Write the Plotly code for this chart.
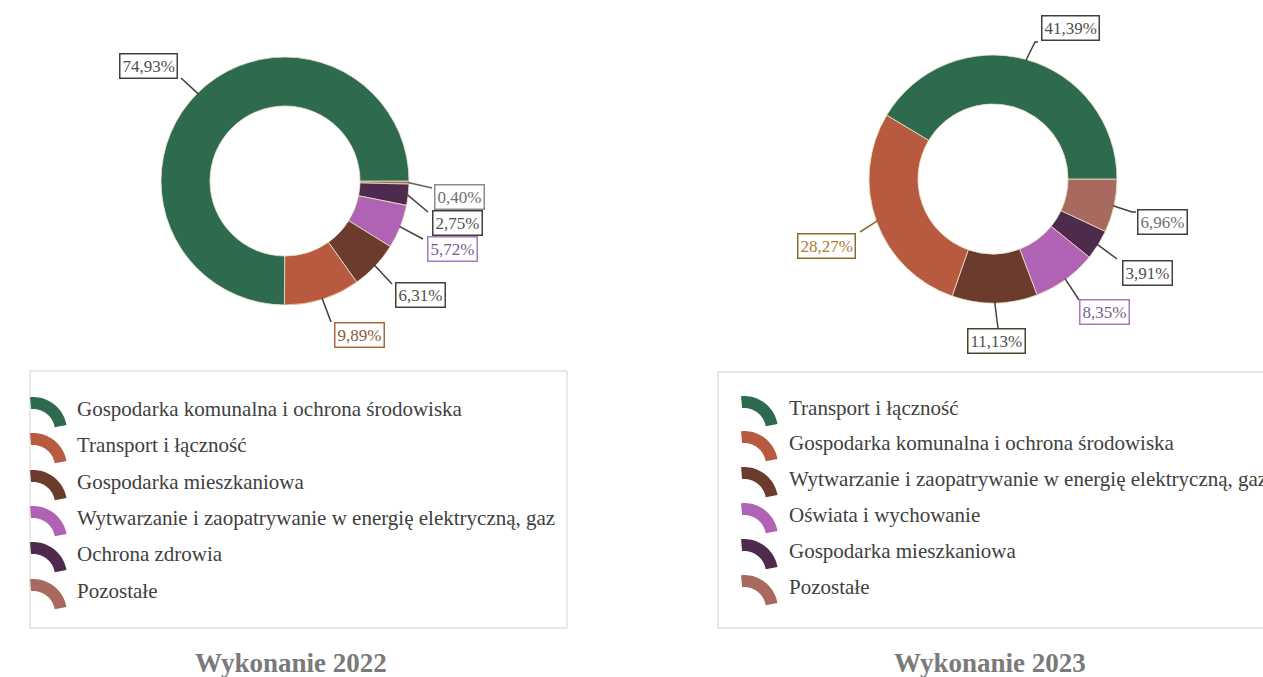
import math
import plotly.graph_objects as go

# --- data -------------------------------------------------------------------
cats_2022 = [
    "Gospodarka komunalna i ochrona środowiska",
    "Transport i łączność",
    "Gospodarka mieszkaniowa",
    "Wytwarzanie i zaopatrywanie w energię elektryczną, gaz",
    "Ochrona zdrowia",
    "Pozostałe",
]
vals_2022 = [74.93, 9.89, 6.31, 5.72, 2.75, 0.40]

cats_2023 = [
    "Transport i łączność",
    "Gospodarka komunalna i ochrona środowiska",
    "Wytwarzanie i zaopatrywanie w energię elektryczną, gaz",
    "Oświata i wychowanie",
    "Gospodarka mieszkaniowa",
    "Pozostałe",
]
vals_2023 = [41.39, 28.27, 11.13, 8.35, 3.91, 6.96]

titles = ["Wykonanie 2022", "Wykonanie 2023"]

# --- styling ----------------------------------------------------------------
W, H = 1263, 677
slice_colors = ["#2e6a4e", "#b85a40", "#6b3b2e", "#b062b4", "#4e2a4c", "#a86a5e"]
SERIF = "Liberation Serif"

# donut geometry (pixel centre, outer radius, inner radius)
donuts = [
    dict(cx=285, cy=181, r=124, hole=75),
    dict(cx=993, cy=179, r=124, hole=75),
]

# label boxes: centre of box, end point(s) of leader line, text colour, border colour
label_layout_2022 = [
    dict(c=(148, 66), end=[(181, 78)], tc="#505050", bc="#404040"),
    dict(c=(359, 335), end=[(331, 322)], tc="#8a5a3a", bc="#b0643c"),
    dict(c=(420, 295), end=[(392, 284)], tc="#505050", bc="#404040"),
    dict(c=(452, 249), end=[(423, 239)], tc="#7a5c8c", bc="#a878b8"),
    dict(c=(457, 223), end=[(428, 212)], tc="#505050", bc="#404040"),
    dict(c=(460, 197), end=[(432, 188)], tc="#707070", bc="#8a8a8a"),
]
label_layout_2023 = [
    dict(c=(1070, 28), end=[(1035, 42), (1038, 42)], tc="#505050", bc="#404040"),
    dict(c=(826, 246), end=[(860, 232)], tc="#b07a30", bc="#8a6a30"),
    dict(c=(996, 341), end=[(998, 328)], tc="#505050", bc="#4a4630"),
    dict(c=(1104, 312), end=[(1079, 300)], tc="#7a5c8c", bc="#a878b8"),
    dict(c=(1147, 273), end=[(1117, 259)], tc="#505050", bc="#404040"),
    dict(c=(1162, 222), end=[(1132, 212), (1136, 212)], tc="#707070", bc="#404040"),
]
line_colors_2022 = ["#404040", "#404040", "#404040", "#404040", "#404040", "#606060"]
line_colors_2023 = ["#404040", "#8a6a30", "#404040", "#404040", "#404040", "#404040"]

# legend boxes and rows
legend_boxes = [(30, 371, 567, 628), (718, 372, 1275, 628)]
legend_text_x = [75, 787]
legend_icon_x = [30, 741]
legend_rows = [
    [409, 445, 482, 518, 554, 591],
    [408, 443, 479, 515, 551, 587],
]
title_pos = [(291, 663), (990, 663)]


def px(x, y):
    return x / W, 1 - y / H


fig = go.Figure()
shapes = []
annotations = []

datasets = [
    (cats_2022, vals_2022, label_layout_2022, line_colors_2022),
    (cats_2023, vals_2023, label_layout_2023, line_colors_2023),
]

for i, (cats, vals, lay, lcols) in enumerate(datasets):
    d = donuts[i]
    x0, y1 = px(d["cx"] - d["r"], d["cy"] - d["r"])
    x1, y0 = px(d["cx"] + d["r"], d["cy"] + d["r"])
    # slices run anticlockwise from 3 o'clock; drawn clockwise in reverse order
    fig.add_trace(go.Pie(
        labels=cats[::-1],
        values=vals[::-1],
        sort=False,
        direction="clockwise",
        rotation=90,
        hole=d["hole"] / d["r"],
        textinfo="none",
        hovertemplate="%{label}: %{value:.2f}%<extra></extra>",
        marker=dict(colors=slice_colors[::-1], line=dict(color="#ece3c6", width=0.8)),
        domain=dict(x=[x0, x1], y=[y0, y1]),
        showlegend=False,
    ))

    total = sum(vals)
    cum = 0.0
    for v, L, lc in zip(vals, lay, lcols):
        mid = (cum + v / 2) / total * 2 * math.pi  # anticlockwise from 3 o'clock
        cum += v
        sx = d["cx"] + (d["r"] - 1) * math.cos(mid)
        sy = d["cy"] - (d["r"] - 1) * math.sin(mid)
        pts = [(sx, sy)] + L["end"]
        path = "M " + " L ".join(
            "{:.5f},{:.5f}".format(*px(x, y)) for x, y in pts)
        shapes.append(dict(type="path", xref="paper", yref="paper", path=path,
                           line=dict(color=lc, width=1.5)))
        bx, by = px(*L["c"])
        annotations.append(dict(
            x=bx, y=by, xref="paper", yref="paper", showarrow=False,
            text=("{:.2f}".format(v)).replace(".", ",") + "%",
            font=dict(family=SERIF, size=17, color=L["tc"]),
            bgcolor="white", bordercolor=L["bc"], borderwidth=1.5, borderpad=2,
            xanchor="center", yanchor="middle",
        ))

    # legend frame
    lx0, ly0, lx1, ly1 = legend_boxes[i]
    a, b = px(lx0, ly0)
    c, e = px(lx1, ly1)
    shapes.append(dict(type="rect", xref="paper", yref="paper",
                       x0=a, y0=e, x1=c, y1=b,
                       line=dict(color="#d2d2d2", width=1), layer="below"))

    # legend rows: arc glyph + label
    for cat, col, ry in zip(cats, slice_colors, legend_rows[i]):
        gx = legend_icon_x[i]
        ccx, ccy = gx + 3, ry + 22
        R_o, R_i = 34, 22
        angs = [math.radians(95 - k * (85 / 24)) for k in range(25)]
        outer = [(ccx + R_o * math.cos(t), ccy - R_o * math.sin(t)) for t in angs]
        inner = [(ccx + R_i * math.cos(t), ccy - R_i * math.sin(t)) for t in reversed(angs)]
        path = "M " + " L ".join(
            "{:.5f},{:.5f}".format(*px(x, y)) for x, y in outer + inner) + " Z"
        shapes.append(dict(type="path", xref="paper", yref="paper", path=path,
                           fillcolor=col, line=dict(width=0)))
        tx, ty = px(legend_text_x[i], ry)
        annotations.append(dict(
            x=tx, y=ty, xref="paper", yref="paper", showarrow=False,
            text=cat, xanchor="left", yanchor="middle",
            font=dict(family=SERIF, size=21, color="#404040"),
        ))

    tx, ty = px(*title_pos[i])
    annotations.append(dict(
        x=tx, y=ty, xref="paper", yref="paper", showarrow=False,
        text="<b>" + titles[i] + "</b>", xanchor="center", yanchor="middle",
        font=dict(family=SERIF, size=27, color="#7a7a7a"),
    ))

fig.update_layout(
    width=W, height=H,
    margin=dict(l=0, r=0, t=0, b=0),
    paper_bgcolor="white", plot_bgcolor="white",
    shapes=shapes, annotations=annotations,
    showlegend=False,
)

fig.write_html("out.html")
